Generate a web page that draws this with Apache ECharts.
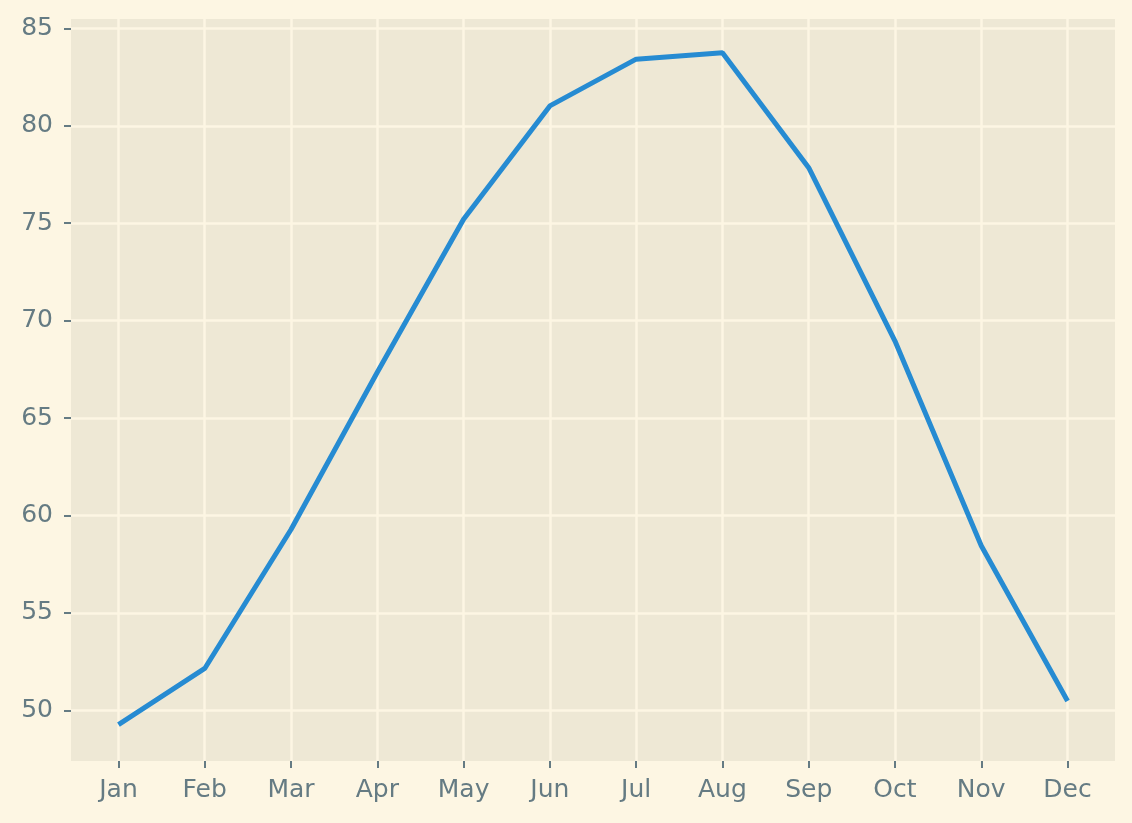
<!DOCTYPE html>
<html><head><meta charset="utf-8">
<script src="https://cdn.jsdelivr.net/npm/echarts@6/dist/echarts.min.js"></script>
<style>html,body{margin:0;padding:0;background:#fdf6e3;}#c{width:1132px;height:823px;}</style>
</head><body><div id="c"></div>
<script>
const months = ['Jan','Feb','Mar','Apr','May','Jun','Jul','Aug','Sep','Oct','Nov','Dec'];
const temps = [49.27, 52.15, 59.28, 67.35, 75.2, 81.02, 83.42, 83.75, 77.85, 68.95, 58.45, 50.48];
const yTicks = [50, 55, 60, 65, 70, 75, 80, 85];
const xTicks = months.map((m, i) => i);

const chart = echarts.init(document.getElementById('c'), null, {renderer: 'canvas'});
const txt = '#657b83';
chart.setOption({
  backgroundColor: '#fdf6e3',
  animation: false,
  grid: {left: 71, right: 17, top: 19, bottom: 62, show: true, backgroundColor: '#eee8d5', borderWidth: 0},
  xAxis: {
    type: 'value', min: -0.55, max: 11.55,
    axisLine: {show: false, onZero: false},
    axisTick: {show: true, length: 7, lineStyle: {color: txt, width: 2}, customValues: xTicks},
    axisLabel: {customValues: xTicks, formatter: v => months[Math.round(v)], color: txt, fontFamily: 'DejaVu Sans', fontSize: 25, margin: 17},
    splitLine: {show: true, lineStyle: {color: '#fdf6e3', width: 2.5}}
  },
  yAxis: {
    type: 'value', min: 47.4, max: 85.48,
    axisLine: {show: false, onZero: false},
    axisTick: {show: true, length: 7, lineStyle: {color: txt, width: 2}, customValues: yTicks},
    axisLabel: {customValues: yTicks, color: txt, fontFamily: 'DejaVu Sans', fontSize: 25, margin: 18},
    splitLine: {show: true, lineStyle: {color: '#fdf6e3', width: 2.5}}
  },
  series: [{
    type: 'line',
    data: temps.map((t, i) => [i, t]),
    showSymbol: false,
    lineStyle: {color: '#268bd2', width: 5},
    itemStyle: {color: '#268bd2'}
  }]
});
</script></body></html>
